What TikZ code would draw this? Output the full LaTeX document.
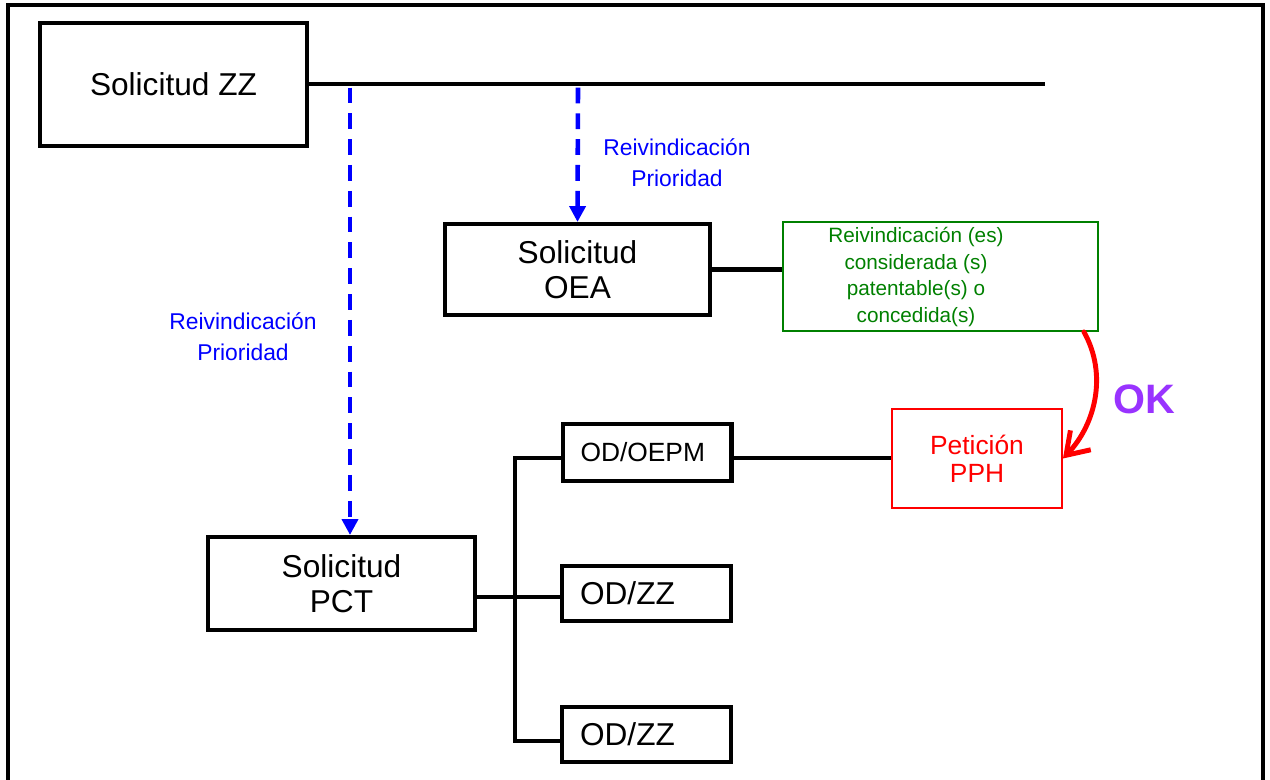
\documentclass[tikz,border=0pt]{standalone}
\usepackage{fontspec}
\setmainfont{Liberation Sans}
\usetikzlibrary{arrows.meta}
\definecolor{prioblue}{RGB}{0,0,255}
\definecolor{claimgreen}{RGB}{0,128,0}
\definecolor{okpurple}{RGB}{153,51,255}
\tikzset{
  box/.style={draw, line width=2.3pt, inner sep=0pt, align=center,
    font=\fontsize{18}{19.8}\selectfont},
  odbox/.style={draw, line width=2.3pt, inner xsep=0.36cm, inner ysep=0pt,
    minimum height=1.1cm, text width=2.66cm, align=left,
    font=\fontsize{18}{20}\selectfont},
  link/.style={line width=2.3pt},
  prio/.style={draw=prioblue, line width=2.6pt, dash pattern=on 9pt off 5.7pt,
    -{Triangle[length=9pt,width=9pt]}},
  priotext/.style={text=prioblue, align=center,
    font=\fontsize{13}{17.8}\selectfont},
}
\begin{document}
\begin{tikzpicture}[x=0.02cm, y=-0.02cm]
  \useasboundingbox (0,0) rectangle (1270,780);
  \draw[line width=2.3pt] (8,780) -- (8,5) -- (1263,5) -- (1263,780);

  % applications
  \node[box, minimum width=5.34cm, minimum height=2.46cm] (zz) at (173.5,84.5) {Solicitud ZZ};
  \node[box, minimum width=5.3cm, minimum height=1.82cm] (oea) at (577.5,269.5) {Solicitud\\OEA};
  \node[box, minimum width=5.34cm, minimum height=1.86cm] (pct) at (341.5,583.5) {Solicitud\\PCT};

  % designated offices
  \node[odbox, minimum height=1.14cm, font=\fontsize{15}{17}\selectfont] (odA) at (647,452.5) {OD/OEPM};
  \node[odbox] (odB) at (646.5,593.5) {OD/ZZ};
  \node[odbox] (odC) at (646.5,734.5) {OD/ZZ};

  % claims and request
  \node[draw=claimgreen, line width=1.1pt, minimum width=6.3cm, minimum height=2.18cm] (claims) at (940.5,276.5) {};
  \node[text=claimgreen, align=center, font=\fontsize{11.8}{15.2}\selectfont] (claimstxt) at (916,277)
    {Reivindicación (es)\\considerada (s)\\patentable(s) o\\concedida(s)};
  \node[draw=red, text=red, line width=1.1pt, minimum width=3.4cm, minimum height=1.98cm, align=center,
    font=\fontsize{15}{16}\selectfont] (pph) at (977,458.5) {Petición\\PPH};

  % priority claims
  \coordinate (lineend) at (1045,84);
  \coordinate (tapA) at (350,84);
  \coordinate (tapB) at (578,84);
  \draw[link] (zz.east |- lineend) -- (lineend);
  \draw[prio] ([yshift=-2pt]tapA) -- (tapA |- pct.north);
  \draw[prio] ([yshift=-2pt]tapB) -- (oea.north);
  \node[priotext] (prioA) at (243,337) {Reivindicación\\Prioridad};
  \node[priotext] (prioB) at (677,163) {Reivindicación\\Prioridad};

  % links
  \draw[link] (oea.east) -- (oea.east -| claims.west);
  \coordinate (busA) at (515,458);
  \coordinate (busB) at (515,597);
  \coordinate (busC) at (515,741);
  \draw[link] (busA -| odA.west) -- (busA) -- (busC) -- (busC -| odC.west);
  \draw[link] (pct.east |- busB) -- (busB -| odB.west);
  \draw[link] (odA.east |- busA) -- (busA -| pph.west);

  % ok arrow
  \draw[red, line width=2.8pt, line cap=round, -{Straight Barb[length=12pt,width=16pt]}]
    ([xshift=-0.3cm]claims.south east) .. controls (1108,375) and (1095,425) .. (pph.east);
  \node[text=okpurple, font=\fontsize{23.4}{26}\selectfont\bfseries] (ok) at (1144,399) {OK};
\end{tikzpicture}
\end{document}
